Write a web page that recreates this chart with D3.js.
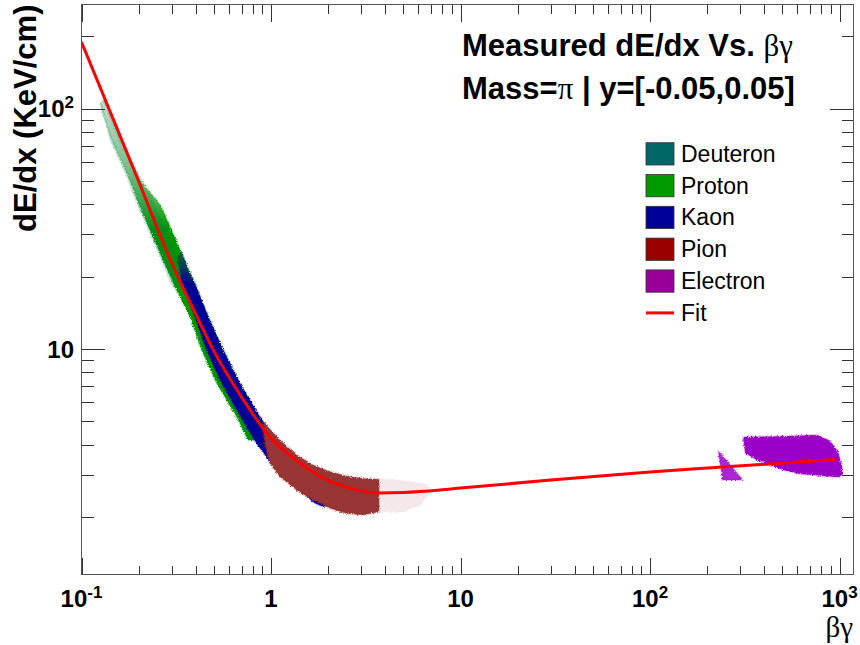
<!DOCTYPE html>
<html>
<head>
<meta charset="utf-8">
<script src="https://cdn.jsdelivr.net/npm/d3@7"></script>
<style>
  html, body { margin: 0; padding: 0; background: #fff; }
  svg { display: block; font-family: "Liberation Sans", Arial, Helvetica, sans-serif; }
</style>
</head>
<body>
<svg id="chart" width="860" height="645"></svg>
<script>
// ---- axis ranges (βγ on x, dE/dx in KeV/cm on y, both logarithmic) ----
const xDomain = [0.1, 1185];
const yDomain = [1.154, 270.9];

// ---- tick labels: [mantissa, exponent] ----
const xLabelValues = [0.1, 1, 10, 100, 1000];
const xLabelText = [["10", "-1"], ["1", ""], ["10", ""], ["10", "2"], ["10", "3"]];
const yLabelValues = [10, 100];
const yLabelText = [["10", ""], ["10", "2"]];

// ---- species bands: each edge is a list of [βγ, dE/dx] ----
const species = ["Deuteron", "Proton", "Kaon", "Pion", "Electron"];

const deuteronUpper = [[0.1343, 108.7], [0.1632, 74.1], [0.2082, 50.5], [0.2591, 36.1], [0.3224, 23.5], [0.364, 18.5]];
const deuteronLower = [[0.1249, 104.6], [0.141, 74.1], [0.1713, 53.0], [0.1983, 39.1], [0.2591, 24.2], [0.2997, 18.17]];

const protonUpper = [[0.1311, 108.7], [0.1593, 74.1], [0.2032, 50.5], [0.2645, 39.1], [0.3439, 24.2], [0.3963, 18.77],
                     [0.4661, 13.63], [0.5593, 9.90], [0.6852, 7.20], [0.8527, 5.23], [0.963, 4.18]];
const protonLower = [[0.1264, 104.6], [0.1445, 74.1], [0.1756, 53.0], [0.2032, 39.1], [0.2645, 24.2], [0.3109, 18.17],
                     [0.373, 13.63], [0.430, 9.90], [0.5162, 7.20], [0.6582, 5.23], [0.7551, 4.18]];

const kaonUpper = [[0.3385, 25.3], [0.364, 21.3], [0.3963, 18.77], [0.4661, 13.63], [0.5593, 9.90], [0.6852, 7.20],
                   [0.8738, 5.23], [1.114, 4.0], [1.365, 3.45], [1.671, 3.1], [1.926, 2.9]];
const kaonLower = [[0.3224, 23.9], [0.3385, 18.77], [0.3963, 13.63], [0.4571, 9.90], [0.5486, 7.20], [0.6582, 5.575],
                   [0.8395, 4.05], [0.9867, 3.40], [1.258, 2.90], [1.671, 2.30], [1.926, 2.19]];

const pionUpper = [[0.9095, 4.98], [1.114, 4.18], [1.365, 3.622], [1.671, 3.291], [2.046, 3.087], [2.506, 2.961],
                   [3.067, 2.897], [3.713, 2.870]];
const pionLower = [[0.9095, 4.601], [0.9286, 4.05], [0.9867, 3.344], [1.114, 2.94], [1.365, 2.59], [1.671, 2.353],
                   [2.046, 2.174], [2.506, 2.072], [3.067, 2.038], [3.713, 2.103]];
const pionTailUpper = [[3.713, 2.87], [4.793, 2.851], [6.496, 2.744], [7.071, 2.59]];
const pionTailLower = [[3.713, 2.103], [4.793, 2.097], [6.112, 2.243], [7.071, 2.59]];

const electronWedge = [[229, 3.78], [241, 2.85], [310, 2.85]];
const electronBlob = [[310, 4.302], [549, 4.345], [763, 4.387], [893, 4.141], [984, 3.727], [1033, 3.198], [1033, 2.961],
                      [961, 2.934], [620, 3.018], [504, 3.14], [368, 3.45], [318, 3.692], [314, 3.985]];

// ---- fit curve ----
const fitBG   = [0.1, 0.15, 0.2, 0.3, 0.4, 0.5, 0.7, 1.0, 1.26, 1.8, 2.7, 3.7, 5, 7.8, 10, 30, 100, 160, 960];
const fitDEDX = [189, 87, 50, 22.7, 14.0, 9.8, 6.3, 4.25, 3.62, 2.97, 2.62, 2.52, 2.53, 2.59, 2.64, 2.85, 3.08, 3.16, 3.47];

// ---- drawing ----
const bandColor = { Deuteron: "#006b6b", Proton: "#009600", Kaon: "#000096", Pion: "#983434", Electron: "#9a00c8" };
const boxColor  = { Deuteron: "#006666", Proton: "#009900", Kaon: "#000099", Pion: "#990000", Electron: "#990099" };

const svg = d3.select("#chart");
const frame = { left: 81.5, right: 853.5, top: 4.5, bottom: 574.5 };

const x = d3.scaleLog().domain(xDomain).range([frame.left, frame.right]);
const y = d3.scaleLog().domain(yDomain).range([frame.bottom, frame.top]);

const defs = svg.append("defs");
defs.append("clipPath").attr("id", "plotClip").append("rect")
  .attr("x", frame.left).attr("y", frame.top)
  .attr("width", frame.right - frame.left).attr("height", frame.bottom - frame.top);

// grainy edge for the scatter bands
const grain = defs.append("filter").attr("id", "grain")
  .attr("x", "-5%").attr("y", "-5%").attr("width", "110%").attr("height", "110%");
grain.append("feTurbulence").attr("type", "fractalNoise").attr("baseFrequency", 0.8)
  .attr("numOctaves", 1).attr("seed", 7).attr("result", "noise");
grain.append("feDisplacementMap").attr("in", "SourceGraphic").attr("in2", "noise")
  .attr("scale", 4).attr("xChannelSelector", "R").attr("yChannelSelector", "G");

// sparse top of the proton band fades in
const pg = defs.append("linearGradient").attr("id", "protonFade")
  .attr("gradientUnits", "userSpaceOnUse").attr("x1", 0).attr("x2", 0).attr("y1", 100).attr("y2", 230);
pg.append("stop").attr("offset", 0).attr("stop-color", bandColor.Proton).attr("stop-opacity", 0.06);
pg.append("stop").attr("offset", 0.55).attr("stop-color", bandColor.Proton).attr("stop-opacity", 0.45);
pg.append("stop").attr("offset", 1).attr("stop-color", bandColor.Proton).attr("stop-opacity", 1);

const kg = defs.append("linearGradient").attr("id", "kaonFade")
  .attr("gradientUnits", "userSpaceOnUse").attr("x1", 0).attr("x2", 0).attr("y1", 250).attr("y2", 285);
kg.append("stop").attr("offset", 0).attr("stop-color", bandColor.Kaon).attr("stop-opacity", 0.2);
kg.append("stop").attr("offset", 1).attr("stop-color", bandColor.Kaon).attr("stop-opacity", 1);

const plot = svg.append("g").attr("clip-path", "url(#plotClip)");
const bands = plot.append("g").attr("filter", "url(#grain)");

const poly = d3.line().x(d => x(d[0])).y(d => y(d[1])).curve(d3.curveLinearClosed);
const band = (upper, lower) => poly(upper.concat(lower.slice().reverse()));

function drawBand(d, fill, opacity, color) {
  bands.append("path").attr("d", d)
    .attr("fill", fill).attr("fill-opacity", opacity)
    .attr("stroke", color).attr("stroke-opacity", 0.25 * opacity).attr("stroke-width", 2)
    .attr("stroke-linejoin", "round");
}

drawBand(band(protonUpper, protonLower), "url(#protonFade)", 1, bandColor.Proton);
drawBand(band(deuteronUpper, deuteronLower), bandColor.Deuteron, 0.18, bandColor.Deuteron);
drawBand(band(kaonUpper, kaonLower), "url(#kaonFade)", 1, bandColor.Kaon);
drawBand(band(pionUpper, pionLower), bandColor.Pion, 1, bandColor.Pion);
drawBand(band(pionTailUpper, pionTailLower), bandColor.Pion, 0.11, bandColor.Pion);
drawBand(poly(electronWedge), bandColor.Electron, 0.85, bandColor.Electron);
drawBand(poly(electronBlob), bandColor.Electron, 1, bandColor.Electron);

// fit curve
const fitPts = fitBG.map((b, i) => [b, fitDEDX[i]]);
plot.append("path")
  .attr("d", d3.line().x(d => x(d[0])).y(d => y(d[1])).curve(d3.curveMonotoneX)(fitPts))
  .attr("fill", "none").attr("stroke", "#ff0000").attr("stroke-width", 3);

// ---- axes: ticks on all four sides, pointing inwards ----
const xMajor = xLabelValues;
const xMinor = x.ticks().filter(v => !xMajor.some(m => Math.abs(m - v) / m < 1e-6));
const yMajor = yLabelValues;
const yMinor = y.ticks().filter(v => !yMajor.some(m => Math.abs(m - v) / m < 1e-6));

function tickGroup(axis, transform) {
  const g = svg.append("g").attr("transform", transform).call(axis);
  g.select(".domain").remove();
  g.selectAll(".tick line").attr("stroke", "#333").attr("shape-rendering", "crispEdges");
  g.selectAll(".tick text").remove();
  return g;
}
const xLong = 17, xShort = 9, yLong = 23.5, yShort = 12;
tickGroup(d3.axisBottom(x).tickValues(xMajor).tickSize(-xLong), `translate(0,${frame.bottom})`);
tickGroup(d3.axisBottom(x).tickValues(xMinor).tickSize(-xShort), `translate(0,${frame.bottom})`);
tickGroup(d3.axisTop(x).tickValues(xMajor).tickSize(-xLong), `translate(0,${frame.top})`);
tickGroup(d3.axisTop(x).tickValues(xMinor).tickSize(-xShort), `translate(0,${frame.top})`);
tickGroup(d3.axisLeft(y).tickValues(yMajor).tickSize(-yLong), `translate(${frame.left},0)`);
tickGroup(d3.axisLeft(y).tickValues(yMinor).tickSize(-yShort), `translate(${frame.left},0)`);
tickGroup(d3.axisRight(y).tickValues(yMajor).tickSize(-yLong), `translate(${frame.right},0)`);
tickGroup(d3.axisRight(y).tickValues(yMinor).tickSize(-yShort), `translate(${frame.right},0)`);

svg.append("rect")
  .attr("x", frame.left).attr("y", frame.top)
  .attr("width", frame.right - frame.left).attr("height", frame.bottom - frame.top)
  .attr("fill", "none").attr("stroke", "#555").attr("shape-rendering", "crispEdges");

// tick labels with superscript exponents
function powerLabel(sel, parts) {
  sel.append("tspan").text(parts[0]);
  if (parts[1]) sel.append("tspan").attr("dy", -9).attr("font-size", 17).text(parts[1]);
}
xLabelValues.forEach((v, i) => {
  const t = svg.append("text").attr("x", x(v)).attr("y", 607)
    .attr("text-anchor", "middle").attr("font-size", 24).attr("font-weight", "bold").attr("fill", "#000");
  powerLabel(t, xLabelText[i]);
});
yLabelValues.forEach((v, i) => {
  const t = svg.append("text").attr("x", 74).attr("y", y(v) + 8.5)
    .attr("text-anchor", "end").attr("font-size", 24).attr("font-weight", "bold").attr("fill", "#000");
  powerLabel(t, yLabelText[i]);
});

// axis titles
svg.append("text").attr("x", 853).attr("y", 637).attr("text-anchor", "end")
  .attr("font-family", "'Liberation Serif', 'Times New Roman', serif").attr("font-size", 29).text("βγ");
svg.append("text").attr("transform", `translate(35.5,4.5) rotate(-90)`).attr("text-anchor", "end")
  .attr("font-size", 31).attr("font-weight", "bold").text("dE/dx (KeV/cm)");

// plot title, two lines
const serif = "'Liberation Serif', 'Times New Roman', serif";
const t1 = svg.append("text").attr("x", 462).attr("y", 56).attr("font-size", 31);
t1.append("tspan").attr("font-weight", "bold").text("Measured dE/dx Vs. ");
t1.append("tspan").attr("font-family", serif).text("βγ");
const t2 = svg.append("text").attr("x", 462).attr("y", 99).attr("font-size", 31);
t2.append("tspan").attr("font-weight", "bold").text("Mass=");
t2.append("tspan").attr("font-family", serif).text("π");
t2.append("tspan").attr("font-weight", "bold").text(" | y=[-0.05,0.05]");

// legend
const legend = svg.append("g");
const rowH = 31.8, legTop = 142.7;
species.forEach((s, i) => {
  legend.append("rect").attr("x", 646).attr("y", legTop + i * rowH).attr("width", 28).attr("height", 22.3)
    .attr("fill", boxColor[s]).attr("stroke", "#333").attr("stroke-width", 0.8);
  legend.append("text").attr("x", 681).attr("y", legTop + 19 + i * rowH).attr("font-size", 23).text(s);
});
legend.append("line").attr("x1", 646).attr("x2", 674)
  .attr("y1", legTop + 5 * rowH + 11.2).attr("y2", legTop + 5 * rowH + 11.2)
  .attr("stroke", "#ff0000").attr("stroke-width", 3);
legend.append("text").attr("x", 681).attr("y", legTop + 19 + 5 * rowH).attr("font-size", 23).text("Fit");
</script>
</body>
</html>
